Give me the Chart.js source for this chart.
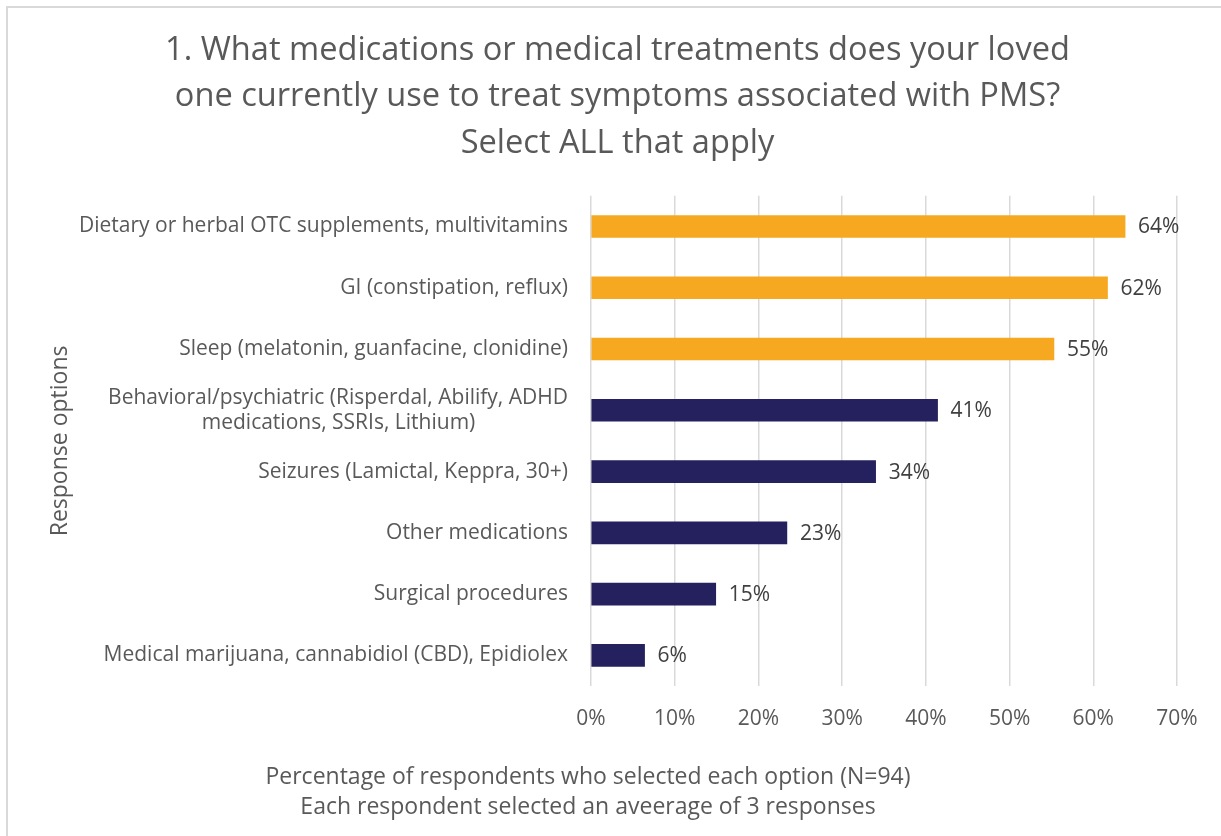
<!DOCTYPE html>
<html>
<head>
<meta charset="utf-8">
<script src="https://cdn.jsdelivr.net/npm/chart.js@4.4.0/dist/chart.umd.min.js"></script>
<style>
  html, body { margin: 0; padding: 0; background: #fff; overflow: hidden; }
  #frame { position: absolute; left: 6px; top: 6px; width: 1300px; height: 900px;
           border-left: 2px solid #d9d9d9; border-top: 2px solid #d9d9d9; }
  #chart { position: absolute; left: 0; top: 0; }
</style>
</head>
<body>
<div id="frame"></div>
<canvas id="chart" width="1235" height="836"></canvas>
<script>
const titleLines = [
  "1. What medications or medical treatments does your loved",
  "one currently use to treat symptoms associated with PMS?",
  "Select ALL that apply"
]
const captionLines = [
  "Percentage of respondents who selected each option (N=94)",
  "Each respondent selected an aveerage of 3 responses"
]
const categories = [
  ["Dietary or herbal OTC supplements, multivitamins"],
  ["GI (constipation, reflux)"],
  ["Sleep (melatonin, guanfacine, clonidine)"],
  ["Behavioral/psychiatric (Risperdal, Abilify, ADHD", "medications, SSRIs, Lithium)"],
  ["Seizures (Lamictal, Keppra, 30+)"],
  ["Other medications"],
  ["Surgical procedures"],
  ["Medical marijuana, cannabidiol (CBD), Epidiolex"]
]
const percentValues = [63.8, 61.7, 55.3, 41.4, 34.0, 23.4, 14.9, 6.4]
const groups = ["top", "top", "top", "other", "other", "other", "other", "other"]
const xTicks = [0, 10, 20, 30, 40, 50, 60, 70]

const FONT = "'Open Sans', Lato, sans-serif"
const GREY = "#595959"
const groupColors = { top: "#F6A821", other: "#25215E" }
const tickFont = { family: FONT, size: 21 }

// center the second line of a two line label under the first one (labels are right aligned)
const measureCtx = document.createElement("canvas").getContext("2d")
measureCtx.font = tickFont.size + "px " + FONT
const tickLabels = categories.map(lines => {
  if (lines.length < 2) return lines[0]
  const w0 = measureCtx.measureText(lines[0]).width
  const w1 = measureCtx.measureText(lines[1]).width
  const sp = measureCtx.measureText(" ").width
  const pad = Math.round((w0 - w1) / 2 / sp)
  return [lines[0], lines[1] + " ".repeat(pad)]
})

// value labels at the end of each bar
const valueLabels = {
  id: "valueLabels",
  afterDatasetsDraw(chart) {
    const ctx = chart.ctx
    ctx.save()
    ctx.font = tickFont.size + "px " + FONT
    ctx.fillStyle = "#404040"
    ctx.textAlign = "left"
    ctx.textBaseline = "middle"
    chart.getDatasetMeta(0).data.forEach((bar, i) => {
      ctx.fillText(Math.round(percentValues[i]) + "%", bar.x + 13, bar.y + 1)
    })
    ctx.restore()
  }
}

// two line caption under the x axis
const caption = {
  id: "caption",
  afterDraw(chart, args, opts) {
    const ctx = chart.ctx
    ctx.save()
    ctx.font = "23px " + FONT
    ctx.fillStyle = GREY
    ctx.textAlign = "center"
    ctx.textBaseline = "middle"
    const x = chart.chartArea.left - 3
    opts.lines.forEach((line, i) => {
      ctx.fillText(line, x, chart.chartArea.bottom + 91 + i * 30)
    })
    ctx.restore()
  }
}

new Chart(document.getElementById("chart"), {
  type: "bar",
  data: {
    labels: tickLabels,
    datasets: [{
      data: percentValues,
      backgroundColor: groups.map(g => groupColors[g]),
      barThickness: 22,
      borderWidth: 0
    }]
  },
  plugins: [valueLabels, caption],
  options: {
    indexAxis: "y",
    responsive: false,
    animation: false,
    layout: { padding: 0 },
    plugins: {
      legend: { display: false },
      tooltip: { enabled: false },
      title: {
        display: true,
        text: titleLines,
        color: GREY,
        font: { family: FONT, size: 32.6, weight: "normal", lineHeight: 1.43 },
        padding: { top: 27, bottom: 29 }
      },
      caption: { lines: captionLines }
    },
    scales: {
      x: {
        min: 0,
        max: 70,
        afterBuildTicks: s => { s.ticks = xTicks.map(v => ({ value: v })) },
        afterFit: s => { s.height = 150 },
        grid: { color: "#d9d9d9", lineWidth: 1.5, drawTicks: false },
        border: { display: false },
        ticks: {
          color: GREY,
          font: tickFont,
          padding: 20,
          callback: v => v + "%"
        }
      },
      y: {
        afterFit: s => { s.width = 591 },
        grid: { display: false, drawTicks: false },
        border: { display: false },
        ticks: { color: GREY, font: tickFont, padding: 23, autoSkip: false },
        title: {
          display: true,
          text: "Response options",
          color: GREY,
          font: { family: FONT, size: 23 },
          padding: { top: 47 }
        }
      },
      // empty right side margin, keeps the plot narrower than the title
      yRight: {
        type: "category",
        position: "right",
        afterFit: s => { s.width = 58 },
        grid: { display: false, drawTicks: false },
        border: { display: false },
        ticks: { display: false }
      }
    }
  }
})
</script>
</body>
</html>
